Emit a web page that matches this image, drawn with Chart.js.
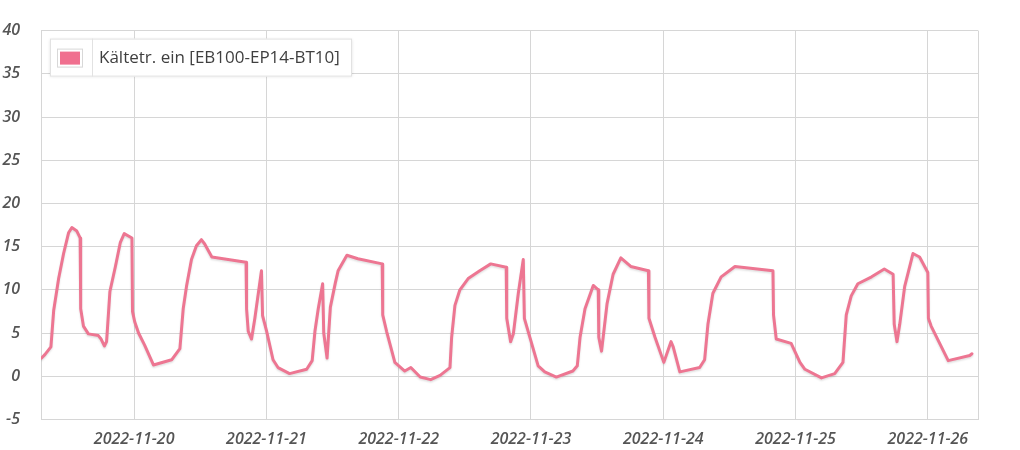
<!DOCTYPE html>
<html>
<head>
<meta charset="utf-8">
<script src="https://cdn.jsdelivr.net/npm/chart.js@4.4.1/dist/chart.umd.min.js"></script>
<style>
  html, body { margin: 0; padding: 0; background: #fff; }
  #wrap { width: 1020px; height: 450px; }
</style>
</head>
<body>
<div id="wrap"><canvas id="chart" width="1020" height="450"></canvas></div>
<script>
/* eslint-disable no-undef */
// Stunden ab 2022-11-19 00:00
const hours = [7.2, 7.8, 8.9, 9.4, 10.3, 11.2, 12.1, 12.7, 13.6, 14.2,
  14.3, 14.8, 15.7, 17.5, 18.0, 18.6, 19.0, 19.6, 20.6, 21.5,
  22.2, 23.6, 23.7, 24.1, 24.8, 25.9, 27.5, 30.8, 32.3, 32.9,
  33.5, 34.4, 35.3, 36.2, 36.8, 38.1, 44.3, 44.4, 44.7, 45.3,
  45.9, 47.1, 47.3, 48.0, 49.2, 50.1, 52.2, 55.3, 56.3, 56.8,
  57.4, 58.2, 58.4, 59.0, 59.6, 60.5, 61.0, 62.6, 64.6, 69.0,
  69.1, 69.8, 71.3, 73.1, 74.2, 75.9, 77.8, 79.5, 81.3, 81.6,
  82.2, 83.1, 84.6, 86.7, 88.7, 91.5, 91.6, 92.3, 92.8, 93.7,
  94.6, 94.8, 95.8, 97.3, 98.5, 100.6, 103.6, 104.4, 104.9, 105.8,
  107.3, 108.2, 108.3, 108.8, 109.8, 110.9, 112.3, 114.1, 117.3, 117.4,
  118.5, 120.1, 121.4, 121.8, 123.0, 126.6, 127.5, 128.1, 129.0, 130.5,
  133.0, 139.9, 140.0, 140.5, 143.2, 144.8, 145.7, 148.7, 151.1, 152.6,
  153.2, 154.1, 155.3, 157.8, 160.1, 161.7, 161.9, 162.4, 162.9, 163.8,
  165.3, 166.5, 168.0, 168.1, 168.6, 171.7, 175.6, 176.0];
const temps = [2.1, 2.5, 3.4, 7.6, 11.3, 14.2, 16.6, 17.2, 16.8, 16.0,
  7.8, 5.8, 4.9, 4.7, 4.3, 3.5, 4.0, 9.8, 12.7, 15.5,
  16.5, 16.0, 7.5, 6.3, 5.0, 3.6, 1.3, 1.9, 3.2, 7.8,
  10.4, 13.5, 15.1, 15.8, 15.3, 13.8, 13.2, 7.8, 5.2, 4.3,
  6.7, 12.2, 7.0, 5.3, 1.9, 1.0, 0.3, 0.8, 1.8, 5.2,
  7.8, 10.7, 5.0, 2.1, 8.0, 10.8, 12.2, 14.0, 13.6, 13.0,
  7.1, 5.2, 1.6, 0.6, 1.0, -0.1, -0.4, 0.1, 1.0, 4.5,
  8.2, 10.0, 11.3, 12.2, 13.0, 12.6, 6.7, 4.0, 4.9, 9.6,
  13.5, 6.7, 4.5, 1.2, 0.5, -0.1, 0.6, 1.2, 4.5, 7.8,
  10.5, 10.0, 4.5, 2.9, 8.4, 11.8, 13.7, 12.7, 12.2, 6.7,
  4.5, 1.6, 4.0, 3.4, 0.5, 1.0, 1.9, 6.0, 9.6, 11.5,
  12.7, 12.2, 7.1, 4.3, 3.8, 1.6, 0.8, -0.2, 0.3, 1.6,
  7.1, 9.3, 10.7, 11.5, 12.4, 11.8, 6.0, 4.0, 6.0, 10.4,
  14.2, 13.8, 12.0, 6.7, 5.8, 1.8, 2.4, 2.6];
const dayTicks = [24, 48, 72, 96, 120, 144, 168];
const dayLabels = ['2022-11-20', '2022-11-21', '2022-11-22', '2022-11-23', '2022-11-24', '2022-11-25', '2022-11-26'];
const seriesLabel = 'Kältetr. ein [EB100-EP14-BT10]';
const xMin = 7.1;
const xMax = 177.1;

const lineColor = 'rgb(237, 118, 146)';
const gridColor = '#d6d6d6';
const tickFont = { family: '"Open Sans"', size: 16, style: 'italic', weight: '600' };

// Legende oben links im Diagramm
const boxLegend = {
  id: 'boxLegend',
  afterDraw(chart) {
    const { ctx, chartArea } = chart;
    const x = chartArea.left + 9;
    const y = chartArea.top + 8;
    const w = 302;
    const h = 38;
    ctx.save();
    ctx.shadowColor = 'rgba(0,0,0,0.12)';
    ctx.shadowBlur = 3;
    ctx.fillStyle = '#fff';
    ctx.fillRect(x, y, w, h);
    ctx.shadowColor = 'transparent';
    ctx.strokeStyle = '#e2e2e2';
    ctx.lineWidth = 1;
    ctx.strokeRect(x + 0.5, y + 0.5, w - 1, h - 1);
    ctx.beginPath();
    ctx.moveTo(x + 42.5, y);
    ctx.lineTo(x + 42.5, y + h);
    ctx.stroke();
    // Farbfeld
    ctx.strokeStyle = '#d8d8d8';
    ctx.strokeRect(x + 7.5, y + 10.5, 25, 18);
    ctx.fillStyle = 'rgb(240, 112, 143)';
    ctx.fillRect(x + 10, y + 13, 20, 13);
    ctx.fillStyle = '#3f3f3f';
    ctx.font = '17px "Open Sans"';
    ctx.textBaseline = 'middle';
    ctx.fillText(chart.data.datasets[0].label, x + 49, y + h / 2 + 1);
    ctx.restore();
  },
};

// leichter Schatten unter der Linie
const lineShadow = {
  id: 'lineShadow',
  beforeDatasetDraw(chart) {
    chart.ctx.save();
    chart.ctx.shadowColor = 'rgba(0,0,0,0.12)';
    chart.ctx.shadowBlur = 2;
    chart.ctx.shadowOffsetY = 1.5;
  },
  afterDatasetDraw(chart) {
    chart.ctx.restore();
  },
};

function draw() {
  const ctx = document.getElementById('chart').getContext('2d');
  const points = hours.map((h, i) => ({ x: h, y: temps[i] }));
  new Chart(ctx, {
    type: 'line',
    data: {
      datasets: [{
        label: seriesLabel,
        data: points,
        borderColor: lineColor,
        backgroundColor: lineColor,
        borderWidth: 3,
        pointRadius: 0,
        tension: 0,
        borderJoinStyle: 'round',
        borderCapStyle: 'round',
        fill: false,
      }],
    },
    options: {
      responsive: false,
      animation: false,
      layout: { padding: { top: 12.7, right: 42, left: 0, bottom: 0 } },
      plugins: {
        legend: { display: false },
        tooltip: { enabled: false },
      },
      scales: {
        x: {
          type: 'linear',
          min: xMin,
          max: xMax,
          afterBuildTicks(scale) {
            scale.ticks = [xMin].concat(dayTicks, [xMax]).map((v) => ({ value: v }));
          },
          afterFit(scale) { scale.height = 27.3; },
          grid: { color: gridColor, drawTicks: false },
          border: { color: gridColor },
          ticks: {
            autoSkip: false,
            maxRotation: 0,
            padding: 10,
            color: '#555',
            font: tickFont,
            callback: (v) => {
              const i = dayTicks.indexOf(v);
              return i >= 0 ? dayLabels[i] : '';
            },
          },
        },
        y: {
          min: -5,
          max: 40,
          afterFit(scale) { scale.width = 41; },
          grid: { color: gridColor, drawTicks: false },
          border: { color: gridColor },
          ticks: {
            stepSize: 5,
            padding: 21,
            color: '#555',
            font: tickFont,
          },
        },
      },
    },
    plugins: [lineShadow, boxLegend],
  });
}

document.fonts.load('italic 600 16px "Open Sans"').then(() => document.fonts.load('17px "Open Sans"')).then(draw, draw);
</script>
</body>
</html>
